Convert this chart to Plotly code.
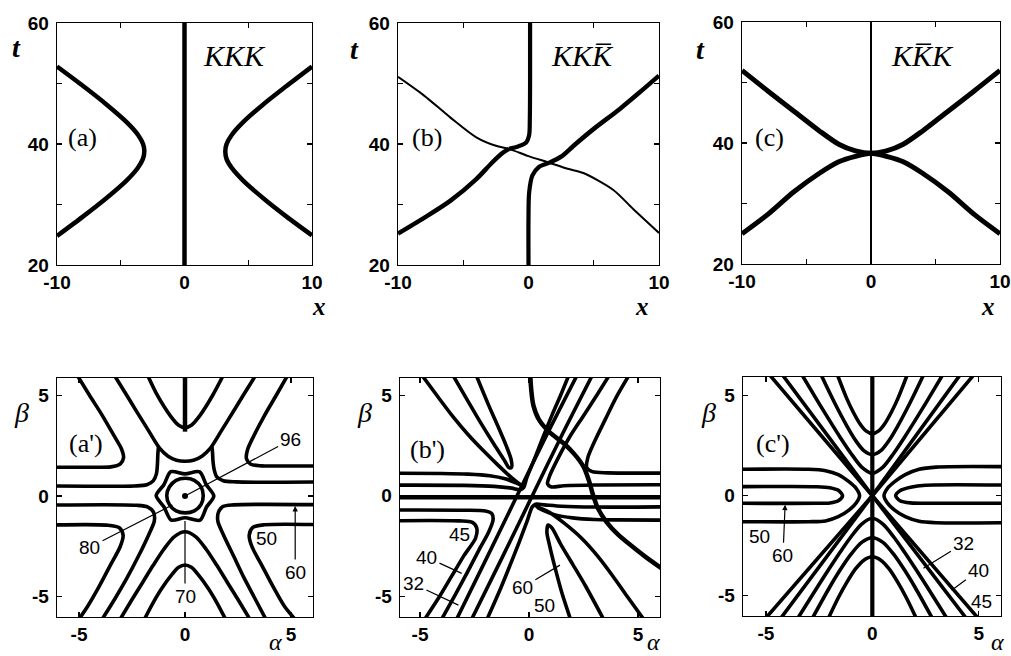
import plotly.graph_objects as go

W, H = 1011, 656

# ---------------- data ----------------
# (a) KKK : kink trajectories in (x, t)
a_center = [(0, 20), (0, 60)]
a_left = [(-10, 24.8), (-7.97, 28), (-6.16, 31), (-4.53, 34), (-3.68, 36), (-3.27, 37.5), (-3.15, 38.8),
          (-3.25, 40), (-3.64, 41.5), (-4.48, 43.5), (-6.1, 46.5), (-7.9, 49.5), (-10, 52.8)]
a_right = [(10, 24.9), (8.0, 28), (6.2, 31), (4.58, 34), (3.72, 36), (3.3, 37.5), (3.2, 38.8),
           (3.3, 40), (3.7, 41.5), (4.54, 43.5), (6.15, 46.5), (7.95, 49.5), (10, 52.8)]

# (b) KKK-bar
b_rise_left = [(-10, 25.2), (-8, 27.8), (-6, 30.6), (-4, 34.2), (-2.8, 36.9), (-2, 38.5), (-1.5, 39.2)]
b_up_mid = [(-1.5, 39.2), (-0.8, 39.6), (-0.2, 40.2), (0.05, 41.5), (0.1, 44), (0.12, 50), (0.12, 60)]
b_low_mid = [(0, 20), (0, 28), (0.05, 32), (0.3, 34.8), (0.8, 36.2), (1.6, 36.9)]
b_rise_right = [(1.6, 36.9), (2.5, 37.9), (3.5, 39.8), (5, 42.5), (7, 45.8), (8.5, 48.5), (10, 51.3)]
b_thin = [(-10, 51.1), (-8, 48.0), (-6, 44.4), (-4, 41.1), (-2.5, 39.7), (-1.5, 39.2), (0, 38.0),
          (1.6, 36.9), (3, 35.9), (4.2, 35.2), (6.5, 32.4), (8, 29.3), (10, 25.3)]

# (c) KK-barK
c_center = [(0, 20), (0, 60)]
c_upper = [(-10, 52), (-8, 48.6), (-6, 45.3), (-4, 42.0), (-2.5, 39.8), (-1.2, 38.7), (0, 38.3),
           (1.2, 38.7), (2.5, 39.8), (4, 42.0), (6, 45.3), (8, 48.6), (10, 52)]
c_lower = [(-10, 25), (-8, 28.2), (-6, 31.9), (-4, 35.0), (-2.5, 36.9), (-1.2, 37.8), (0, 38.3),
           (1.2, 37.8), (2.5, 36.9), (4, 35.0), (6, 31.9), (8, 28.2), (10, 25)]

# (a') contour lines in (alpha, beta)
ap_vert = [(0, 3.2), (0, 6.2)]
ap_v1 = [(-1.85, 6.2), (-1.3, 5.0), (-0.7, 4.0), (-0.3, 3.52), (0, 3.4), (0.3, 3.52), (0.7, 4.0), (1.3, 5.0), (1.9, 6.2)]
ap_v2 = [(-3.45, 6.2), (-2.8, 5.1), (-2.28, 4.2), (-1.75, 3.3), (-1.2, 2.38), (-0.8, 1.98), (-0.4, 1.78), (0, 1.73),
         (0.4, 1.78), (0.8, 1.98), (1.2, 2.38), (1.75, 3.3), (2.28, 4.2), (2.8, 5.1), (3.45, 6.2)]
ap_f_left = [(-6.2, 0.5), (-2.4, 0.5), (-1.8, 0.56), (-1.5, 0.75), (-1.35, 1.1), (-1.3, 1.6), (-1.28, 2.1), (-1.25, 2.45)]
ap_f_right = [(6.2, 0.7), (2.4, 0.7), (1.8, 0.76), (1.5, 0.95), (1.38, 1.3), (1.32, 1.75), (1.3, 2.15), (1.27, 2.48)]
ap_corner_ul = [(-5.2, 6.2), (-4.5, 5.0), (-3.9, 4.0), (-3.35, 3.0), (-3.0, 2.35), (-2.9, 1.9), (-3.05, 1.6),
                (-3.5, 1.45), (-4.2, 1.43), (-6.2, 1.43)]
ap_corner_ur = [(4.95, 6.2), (4.3, 5.0), (3.75, 4.0), (3.25, 3.0), (2.95, 2.3), (2.9, 1.85), (3.1, 1.58),
                (3.6, 1.5), (4.3, 1.49), (6.2, 1.49)]
ap_corner_ll = [(-6.2, -1.44), (-3.7, -1.45), (-3.1, -1.58), (-2.92, -1.95), (-3.05, -2.5), (-3.55, -3.5),
                (-4.05, -4.5), (-4.6, -5.5), (-5.05, -6.2)]
ap_corner_lr = [(6.2, -1.42), (3.75, -1.43), (3.2, -1.56), (3.03, -1.95), (3.15, -2.5), (3.65, -3.5),
                (4.15, -4.5), (4.7, -5.5), (5.25, -6.2)]
ap_g_left = [(-6.2, -0.45), (-2.3, -0.46), (-1.75, -0.55), (-1.48, -0.82), (-1.45, -1.25), (-1.7, -1.9),
             (-2.2, -3.0), (-2.75, -4.1), (-3.3, -5.1), (-3.95, -6.2)]
ap_g_right = [(6.2, -0.43), (2.3, -0.44), (1.8, -0.52), (1.58, -0.8), (1.55, -1.25), (1.8, -1.9),
              (2.3, -3.0), (2.8, -4.1), (3.3, -5.1), (3.85, -6.2)]
ap_l2 = [(-3.1, -6.2), (-2.5, -5.15), (-2.0, -4.3), (-1.5, -3.45), (-1.0, -2.65), (-0.5, -2.02), (0, -1.78),
         (0.5, -2.02), (1.0, -2.65), (1.5, -3.45), (2.0, -4.3), (2.5, -5.15), (3.1, -6.2)]
ap_l1 = [(-1.95, -6.2), (-1.5, -5.3), (-1.1, -4.6), (-0.65, -3.95), (-0.3, -3.55), (0, -3.43),
         (0.3, -3.55), (0.65, -3.95), (1.1, -4.6), (1.5, -5.3), (1.95, -6.2)]
ap_hex = [(1.36, 0), (1.0, 0.57), (0.69, 1.2), (0, 1.1), (-0.67, 1.21), (-0.99, 0.57), (-1.36, 0.02),
          (-0.99, -0.55), (-0.65, -1.2), (0, -1.08), (0.71, -1.2), (1.01, -0.56), (1.36, 0)]
ap_ring = [(0.86, 0.02), (0.76, 0.45), (0.44, 0.78), (0.02, 0.88), (-0.42, 0.78), (-0.74, 0.45), (-0.86, 0.02),
           (-0.74, -0.42), (-0.42, -0.74), (0.02, -0.84), (0.44, -0.74), (0.76, -0.42), (0.86, 0.02)]
ap_dot = [(0, 0)]

# (b') contour lines
bp_traj = [(0.05, 6.2), (0.1, 5.3), (0.2, 4.5), (0.45, 3.8), (0.95, 3.15), (1.6, 2.6), (2.1, 2.05), (2.5, 1.45),
           (2.75, 0.75), (2.95, 0.0), (3.15, -0.6), (3.55, -1.3), (4.1, -1.95), (4.6, -2.4), (5.3, -3.0), (6.2, -3.7)]
bp_h0 = [(-6.2, -0.07), (6.2, -0.07)]
bp_ul1 = [(-5.05, 6.2), (-4.2, 4.95), (-3.5, 3.95), (-2.8, 3.05), (-2.1, 2.25), (-1.4, 1.5), (-0.8, 0.9),
          (-0.45, 0.6), (-0.3, 0.5), (-0.55, 0.62), (-1.1, 0.85), (-1.8, 1.0), (-2.8, 1.08), (-4, 1.11), (-6.2, 1.12)]
bp_tongue_ul = [(-3.6, 6.2), (-2.85, 4.8), (-2.2, 3.6), (-1.6, 2.55), (-1.15, 1.8), (-0.92, 1.4), (-0.8, 1.42),
                (-0.82, 1.8), (-1.05, 2.5), (-1.4, 3.4), (-1.85, 4.5), (-2.5, 6.2)]
bp_h2 = [(-6.2, 0.53), (-3, 0.52), (-1.6, 0.47), (-0.8, 0.38), (-0.4, 0.3), (-0.25, 0.4), (-0.1, 0.9),
         (0.2, 1.7), (0.6, 2.8), (1.05, 4.0), (1.45, 5.0), (1.9, 6.2)]
bp_t1 = [(-3.35, -6.2), (-1.9, -3.0), (-0.55, 0.0), (0.8, 3.0), (2.3, 6.2)]
bp_t2 = [(-2.66, -6.2), (-1.2, -3.0), (0.15, 0.0), (1.5, 3.0), (3.0, 6.2)]
bp_c40 = [(-6.2, -0.71), (-3, -0.72), (-2.0, -0.76), (-1.7, -0.9), (-1.65, -1.2), (-1.85, -1.8), (-2.3, -2.7),
          (-2.85, -3.85), (-3.4, -4.95), (-4.04, -6.2)]
bp_c45 = [(-6.2, -1.24), (-3.2, -1.25), (-2.6, -1.32), (-2.4, -1.6), (-2.45, -2.1), (-3.0, -3.0), (-3.55, -4.0),
          (-4.1, -5.0), (-4.82, -6.2)]
bp_c40m = [(6.2, 0.55), (3, 0.54), (1.6, 0.5), (1.0, 0.45), (0.85, 0.6), (0.95, 1.0), (1.3, 1.8), (1.85, 2.9),
           (2.45, 3.9), (3.05, 4.9), (3.8, 6.2)]
bp_ur = [(6.2, 1.13), (3.6, 1.14), (2.9, 1.2), (2.65, 1.4), (2.7, 1.9), (3.05, 2.8), (3.5, 3.8), (4.0, 4.9), (4.7, 6.2)]
bp_h2m = [(6.2, -0.55), (3, -0.56), (1.5, -0.52), (0.7, -0.45), (0.3, -0.42), (0.15, -0.55), (-0.1, -1.3),
          (-0.45, -2.3), (-0.85, -3.4), (-1.3, -4.6), (-1.95, -6.2)]
bp_lr1 = [(5.3, -6.2), (4.5, -5.0), (3.85, -4.0), (3.15, -3.0), (2.4, -2.1), (1.6, -1.35), (0.9, -0.8), (0.5, -0.6),
          (0.35, -0.55), (0.6, -0.7), (1.2, -0.95), (2.0, -1.1), (3.0, -1.18), (4.0, -1.2), (6.2, -1.21)]
bp_tongue_lr = [(1.92, -6.2), (1.5, -4.8), (1.2, -3.6), (0.95, -2.5), (0.82, -1.8), (0.88, -1.45), (1.05, -1.6),
                (1.45, -2.4), (2.0, -3.4), (2.6, -4.5), (3.45, -6.2)]

# (c') contour lines
cp_vert = [(0, -6.2), (0, 6.2)]
cp_v1 = [(-1.7, 6.2), (-1.2, 4.85), (-0.9, 4.18), (-0.6, 3.62), (-0.3, 3.24), (0, 3.1), (0.3, 3.24), (0.6, 3.62),
         (0.9, 4.18), (1.2, 4.85), (1.7, 6.2)]
cp_v2 = [(-2.48, 6.2), (-2.0, 5.13), (-1.6, 4.28), (-1.2, 3.49), (-0.8, 2.78), (-0.4, 2.25), (0, 2.05), (0.4, 2.25),
         (0.8, 2.78), (1.2, 3.49), (1.6, 4.28), (2.0, 5.13), (2.48, 6.2)]
cp_v3 = [(-3.4, 6.2), (-2.5, 4.6), (-2.0, 3.74), (-1.5, 2.9), (-1.0, 2.11), (-0.5, 1.43), (0, 1.12), (0.5, 1.43),
         (1.0, 2.11), (1.5, 2.9), (2.0, 3.74), (2.5, 4.6), (3.4, 6.2)]
cp_l1 = [(-3.55, -6.2), (-2.5, -4.42), (-2.0, -3.6), (-1.5, -2.8), (-1.0, -2.05), (-0.5, -1.42), (0, -1.13),
         (0.5, -1.42), (1.0, -2.05), (1.5, -2.8), (2.0, -3.6), (2.5, -4.42), (3.55, -6.2)]
cp_l2 = [(-2.86, -6.2), (-2.0, -4.56), (-1.5, -3.69), (-1.0, -2.92), (-0.5, -2.33), (0, -2.1), (0.5, -2.33),
         (1.0, -2.92), (1.5, -3.69), (2.0, -4.56), (2.86, -6.2)]
cp_l3 = [(-2.1, -6.2), (-1.6, -5.1), (-1.2, -4.33), (-0.8, -3.67), (-0.4, -3.22), (0, -3.05), (0.4, -3.22),
         (0.8, -3.67), (1.2, -4.33), (1.6, -5.1), (2.1, -6.2)]
cp_x1a = [(-5.08, -6.2), (0, 0), (4.9, 6.2)]
cp_x1b = [(5.04, -6.2), (0, 0), (-4.96, 6.2)]
cp_x2a = [(-4.36, -6.2), (0, 0), (4.24, 6.2)]
cp_x2b = [(4.47, -6.2), (0, 0), (-4.34, 6.2)]
cp_co_l = [(-6.2, 1.32), (-3, 1.32), (-2.2, 1.25), (-1.6, 1.05), (-1.1, 0.7), (-0.75, 0.35), (-0.6, 0),
           (-0.75, -0.35), (-1.1, -0.72), (-1.6, -1.05), (-2.2, -1.26), (-3, -1.3), (-6.2, -1.3)]
cp_ci_l = [(-6.2, 0.45), (-2.6, 0.45), (-2.0, 0.4), (-1.6, 0.27), (-1.4, 0), (-1.6, -0.25), (-2.0, -0.36),
           (-2.6, -0.38), (-6.2, -0.38)]
cp_co_r = [(6.2, 1.45), (3, 1.43), (2.2, 1.32), (1.55, 1.05), (1.05, 0.7), (0.7, 0.35), (0.55, 0), (0.7, -0.35),
           (1.05, -0.72), (1.55, -1.05), (2.2, -1.28), (3, -1.35), (6.2, -1.35)]
cp_ci_r = [(6.2, 0.53), (2.5, 0.52), (1.8, 0.42), (1.3, 0.25), (1.1, 0), (1.3, -0.25), (1.8, -0.36),
           (2.5, -0.38), (6.2, -0.38)]

# tick values / labels
top_xticks = [-10, -5, 0, 5, 10]
top_xlabels = ["-10", "", "0", "", "10"]
top_yticks = [20, 30, 40, 50, 60]
top_ylabels = ["20", "", "40", "", "60"]
bot_ticks = [-5, 0, 5]
bot_labels = ["-5", "0", "5"]

# contour value labels: (text, label alpha, label beta, target alpha, target beta, arrowhead)
ap_labels = [("96", 5.0, 2.8, 0.0, 0.0, 0), ("80", -4.5, -2.55, -0.6, -0.45, 0),
             ("70", 0.0, -5.0, 0.0, -1.25, 0), ("60", 5.2, -3.8, 5.2, -0.5, 2)]
ap_plain = [("50", 3.85, -2.1)]
bp_labels = [("40", -4.7, -3.05, -3.09, -3.86, 0), ("32", -5.3, -4.38, -3.24, -5.44, 0),
             ("60", -0.3, -4.55, 1.42, -3.45, 0)]
bp_plain = [("45", -3.2, -1.95), ("50", 0.73, -5.45)]
cp_labels = [("60", -4.2, -3.0, -4.1, -0.45, 2), ("32", 4.3, -2.38, 2.4, -3.63, 0),
             ("40", 5.0, -3.72, 3.73, -4.72, 0)]
cp_plain = [("50", -5.3, -2.05), ("45", 5.15, -5.3)]

# ---------------- layout helpers ----------------
panels = {
    1: ((57, 312, 23, 265), [-10, 10], [20, 60]),
    2: ((398, 659, 23, 265), [-10, 10], [20, 60]),
    3: ((742, 1000, 22, 264), [-10, 10], [20, 60]),
    4: ((57, 313, 378, 617), [-6.04, 6.04], [-6.02, 5.87]),
    5: ((400, 660, 378, 617), [-5.92, 6.01], [-6.03, 5.86]),
    6: ((743, 1001, 377, 616), [-6.08, 6.05], [-6.01, 5.93]),
}

fig = go.Figure()

def ax_name(i):
    return ("x" if i == 1 else f"x{i}"), ("y" if i == 1 else f"y{i}")

def add(curve, i, width, shape="spline"):
    xa, ya = ax_name(i)
    fig.add_trace(go.Scatter(x=[p[0] for p in curve], y=[p[1] for p in curve], mode="lines",
                             xaxis=xa, yaxis=ya, hoverinfo="skip",
                             line=dict(color="black", width=width, shape=shape, smoothing=0.8)))

# top row
add(a_center, 1, 4.5, "linear"); add(a_left, 1, 4.5); add(a_right, 1, 4.5)
add(b_rise_left, 2, 4.5); add(b_up_mid, 2, 4.2); add(b_low_mid, 2, 4.2); add(b_rise_right, 2, 4.5)
add(b_thin, 2, 2.0)
add(c_center, 3, 2.0, "linear"); add(c_upper, 3, 5.0); add(c_lower, 3, 5.0)

# bottom row
CW = 3.6
add(ap_vert, 4, 4.5, "linear")
for c in [ap_v1, ap_v2, ap_f_left, ap_f_right, ap_corner_ul, ap_corner_ur, ap_corner_ll, ap_corner_lr,
          ap_g_left, ap_g_right, ap_l2, ap_l1, ap_hex, ap_ring]:
    add(c, 4, CW)
for c in [bp_ul1, bp_tongue_ul, bp_h2, bp_c40, bp_c45, bp_c40m, bp_ur, bp_h2m, bp_lr1, bp_tongue_lr]:
    add(c, 5, CW)
add(bp_t1, 5, CW); add(bp_t2, 5, CW)
add(bp_h0, 5, 4.5, "linear")
add(bp_traj, 5, 4.5)
add(cp_vert, 6, 4.2, "linear")
for c in [cp_v1, cp_v2, cp_v3, cp_l1, cp_l2, cp_l3, cp_co_l, cp_ci_l, cp_co_r, cp_ci_r]:
    add(c, 6, CW)
for c in [cp_x1a, cp_x1b, cp_x2a, cp_x2b]:
    add(c, 6, CW, "linear")

fig.add_trace(go.Scatter(x=[p[0] for p in ap_dot], y=[p[1] for p in ap_dot], mode="markers",
                         xaxis="x4", yaxis="y4", marker=dict(color="black", size=6), hoverinfo="skip"))

tickfont = dict(family="Liberation Sans, Arial, sans-serif", size=19, color="black", weight="bold")
layout = dict(width=W, height=H, margin=dict(l=0, r=0, t=0, b=0, autoexpand=False), paper_bgcolor="white",
              plot_bgcolor="white", showlegend=False)

for i, ((x0, x1, y0, y1), xr, yr) in panels.items():
    xk = "xaxis" if i == 1 else f"xaxis{i}"
    yk = "yaxis" if i == 1 else f"yaxis{i}"
    xa, ya = ax_name(i)
    top = i <= 3
    common = dict(showline=True, linecolor="black", linewidth=1.3, mirror="ticks", ticks="inside",
                  ticklen=5, tickwidth=1.2, tickcolor="black", showgrid=False, zeroline=False,
                  tickfont=tickfont, fixedrange=True, ticklabeloverflow="allow", automargin=False)
    layout[xk] = dict(domain=[x0 / W, x1 / W], range=xr, anchor=ya,
                      tickvals=top_xticks if top else bot_ticks,
                      ticktext=top_xlabels if top else bot_labels, ticklabelstandoff=0, **common)
    layout[yk] = dict(domain=[1 - y1 / H, 1 - y0 / H], range=yr, anchor=xa,
                      tickvals=top_yticks if top else bot_ticks,
                      ticktext=top_ylabels if top else bot_labels, ticklabelstandoff=3, **common)
fig.update_layout(**layout)

ann = []
def ptxt(text, px, py, size, family="Liberation Serif, Times New Roman, serif", weight="normal", yanchor="middle"):
    ann.append(dict(text=text, x=px / W, y=1 - py / H, xref="paper", yref="paper", showarrow=False,
                    xanchor="center", yanchor=yanchor,
                    font=dict(family=family, size=size, color="black", weight=weight)))

serif = "Liberation Serif, Times New Roman, serif"
for px in [(16, 48), (354, 50), (700, 50)]:
    ptxt("<i>t</i>", px[0], px[1], 28, serif, "bold")
for px in [(319, 306), (642, 306), (988, 306)]:
    ptxt("<i>x</i>", px[0], px[1], 25, serif, "bold")
for px in [(21, 412), (364, 413), (708, 413)]:
    ptxt("<i>β</i>", px[0], px[1], 28, serif)
for px in [(275, 657), (653, 657), (997, 657)]:
    ptxt("<i>α</i>", px[0], px[1], 24, serif, yanchor="bottom")
ptxt("<i>KKK</i>", 234, 55, 30, serif)
ptxt("<i>KKK\u0305</i>", 582, 55, 30, serif)
ptxt("<i>KK\u0305K</i>", 922, 55, 30, serif)
ptxt("(a)", 82, 137, 26, serif)
ptxt("(b)", 427, 137, 26, serif)
ptxt("(c)", 769, 137, 26, serif)
ptxt("(a')", 86, 443, 26, serif)
ptxt("(b')", 427, 449, 26, serif)
ptxt("(c')", 773, 443, 26, serif)

numfont = dict(family="Liberation Sans, Arial, sans-serif", size=19, color="black")
for i, lab, plain in [(4, ap_labels, ap_plain), (5, bp_labels, bp_plain), (6, cp_labels, cp_plain)]:
    xa, ya = ax_name(i)
    for t, lx, ly, tx, ty, head in lab:
        ann.append(dict(text=t, x=tx, y=ty, ax=lx, ay=ly, xref=xa, yref=ya, axref=xa, ayref=ya,
                        showarrow=True, arrowhead=head, arrowsize=0.9, arrowwidth=1.2, arrowcolor="black",
                        font=numfont, standoff=0, startstandoff=1))
    for t, lx, ly in plain:
        ann.append(dict(text=t, x=lx, y=ly, xref=xa, yref=ya, showarrow=False, font=numfont))

fig.update_layout(annotations=ann)
fig.write_html("out.html", config={"displayModeBar": False, "staticPlot": True},
               post_script="document.body.style.margin='0px';document.body.style.overflow='hidden';")
